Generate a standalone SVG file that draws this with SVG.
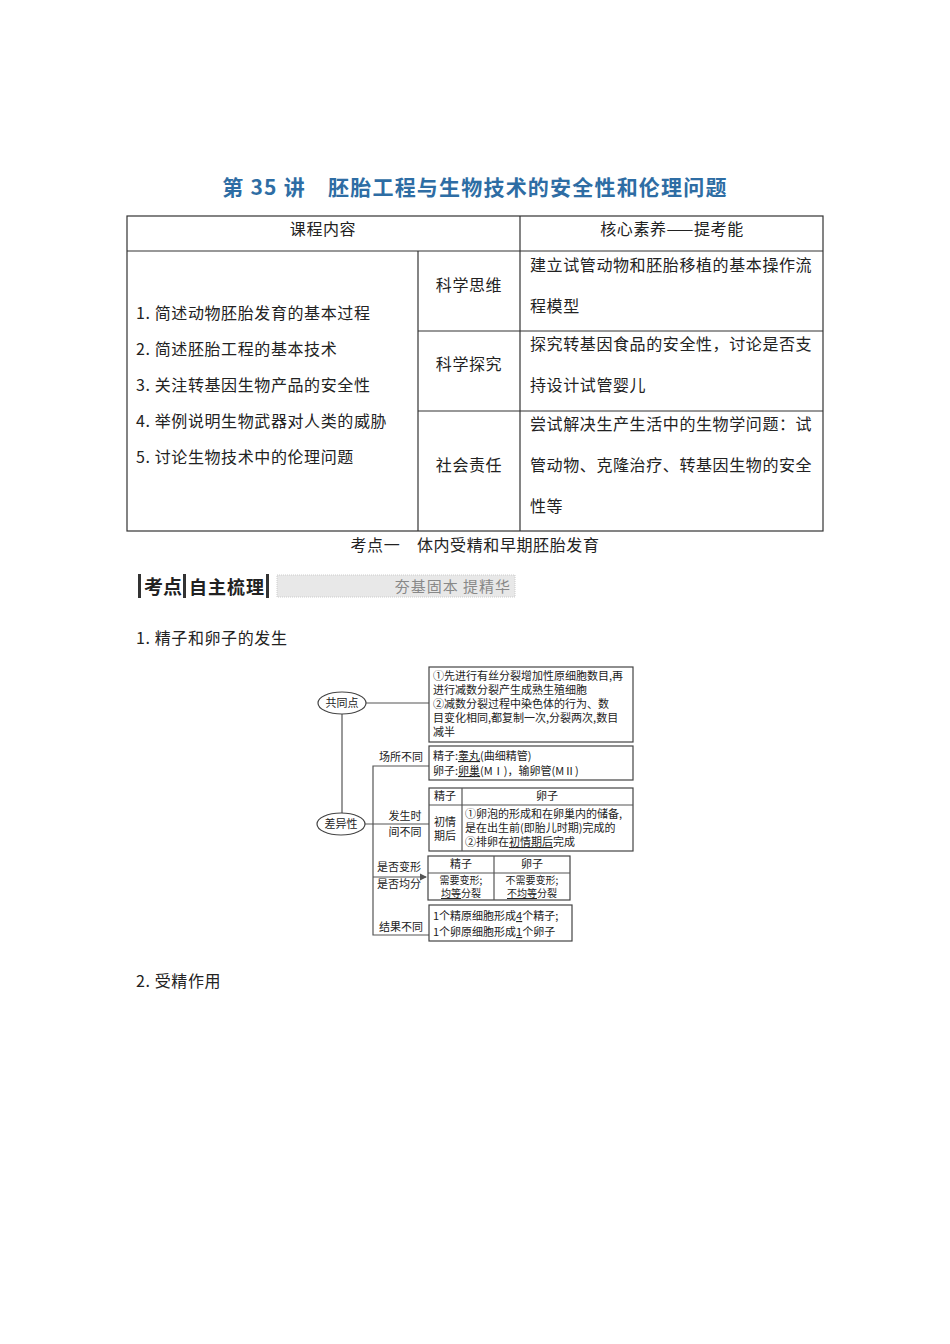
<svg xmlns="http://www.w3.org/2000/svg" width="950" height="1344" viewBox="0 0 950 1344">
<style>
text{font-family:"Noto Sans CJK SC","Liberation Serif",serif;fill:#222}
.t{font-size:16px;letter-spacing:0.6px}
.s{font-size:11px}
.xs{font-size:10px}
.b{fill:#fff;stroke:#444;stroke-width:1.2}
.l{stroke:#555;stroke-width:1.2;fill:none}
</style>
<defs><marker id="a" markerWidth="6" markerHeight="6" refX="5" refY="3" orient="auto"><path d="M0,0L6,3L0,6z" fill="#555"/></marker></defs>
<rect width="950" height="1344" fill="#fff"/>
<text x="475" y="195" text-anchor="middle" font-size="21" font-weight="bold" letter-spacing="1.2" style="fill:#2e6da4">第 35 讲　胚胎工程与生物技术的安全性和伦理问题</text>
<g id="table" class="l" style="stroke:#333">
<rect x="127" y="216" width="696" height="315"/>
<line x1="127" y1="251" x2="823" y2="251"/>
<line x1="520" y1="216" x2="520" y2="531"/>
<line x1="418" y1="251" x2="418" y2="531"/>
<line x1="418" y1="331" x2="823" y2="331"/>
<line x1="418" y1="411" x2="823" y2="411"/>
</g>
<g class="t">
<text x="323" y="235" text-anchor="middle">课程内容</text>
<text x="672" y="235" text-anchor="middle">核心素养——提考能</text>
<text x="136" y="319">1. 简述动物胚胎发育的基本过程</text>
<text x="136" y="355">2. 简述胚胎工程的基本技术</text>
<text x="136" y="391">3. 关注转基因生物产品的安全性</text>
<text x="136" y="427">4. 举例说明生物武器对人类的威胁</text>
<text x="136" y="463">5. 讨论生物技术中的伦理问题</text>
<text x="469" y="291" text-anchor="middle">科学思维</text>
<text x="469" y="370" text-anchor="middle">科学探究</text>
<text x="469" y="471" text-anchor="middle">社会责任</text>
<text x="530" y="271">建立试管动物和胚胎移植的基本操作流</text>
<text x="530" y="312">程模型</text>
<text x="530" y="350">探究转基因食品的安全性，讨论是否支</text>
<text x="530" y="391">持设计试管婴儿</text>
<text x="530" y="430">尝试解决生产生活中的生物学问题：试</text>
<text x="530" y="471">管动物、克隆治疗、转基因生物的安全</text>
<text x="530" y="512">性等</text>
<text x="475" y="551" text-anchor="middle">考点一　体内受精和早期胚胎发育</text>
<text x="136" y="644">1. 精子和卵子的发生</text>
<text x="136" y="987">2. 受精作用</text>
</g>
<g id="banner">
<rect x="138" y="574" width="3" height="24" fill="#333"/>
<rect x="183" y="574" width="3" height="24" fill="#333"/>
<rect x="266" y="574" width="3" height="24" fill="#333"/>
<text x="144" y="594" font-size="19" font-weight="bold">考点</text>
<text x="189" y="594" font-size="18" font-weight="bold" letter-spacing="1">自主梳理</text>
<rect x="277" y="575" width="238" height="22" fill="#e8e8e8" stroke="#ccc" stroke-dasharray="1,1"/>
<text x="511" y="592" text-anchor="end" font-size="15" letter-spacing="1" style="fill:#888">夯基固本  提精华</text>
</g>
<g id="connectors" class="l">
<line x1="366" y1="703" x2="429" y2="703"/>
<line x1="342" y1="714" x2="342" y2="813"/>
<line x1="365" y1="824" x2="429" y2="824"/>
<polyline points="429,766 373,766 373,935 429,935"/>
<line x1="373" y1="877" x2="426" y2="877" marker-end="url(#a)"/>
</g>
<g id="n1"><ellipse cx="342" cy="703" rx="24" ry="11" class="b"/><text x="342" y="707" class="s" text-anchor="middle">共同点</text></g>
<g id="n2"><ellipse cx="341" cy="824" rx="24" ry="11" class="b"/><text x="341" y="828" class="s" text-anchor="middle">差异性</text></g>
<g id="b1" class="s"><rect x="429" y="667" width="204" height="75" class="b"/>
<text x="433" y="680">①先进行有丝分裂增加性原细胞数目,再</text>
<text x="433" y="694">进行减数分裂产生成熟生殖细胞</text>
<text x="433" y="708">②减数分裂过程中染色体的行为、数</text>
<text x="433" y="722">目变化相同,都复制一次,分裂两次,数目</text>
<text x="433" y="736">减半</text></g>
<g id="b2" class="s"><rect x="429" y="746" width="204" height="34" class="b"/>
<text x="401" y="761" text-anchor="middle">场所不同</text>
<text x="433" y="760">精子:<tspan text-decoration="underline">睾丸</tspan>(曲细精管)</text>
<text x="433" y="775">卵子:<tspan text-decoration="underline">卵巢</tspan>(MⅠ)，输卵管(MⅡ)</text></g>
<g id="b3" class="s"><rect x="429" y="788" width="204" height="63" class="b"/>
<line x1="429" y1="805" x2="633" y2="805" class="l"/><line x1="462" y1="788" x2="462" y2="851" class="l"/>
<text x="445" y="800" text-anchor="middle">精子</text><text x="547" y="800" text-anchor="middle">卵子</text>
<text x="445" y="826" text-anchor="middle">初情</text><text x="445" y="840" text-anchor="middle">期后</text>
<text x="465" y="818">①卵泡的形成和在卵巢内的储备,</text>
<text x="465" y="832">是在出生前(即胎儿时期)完成的</text>
<text x="465" y="846">②排卵在<tspan text-decoration="underline">初情期后</tspan>完成</text>
<text x="405" y="820" text-anchor="middle">发生时</text><text x="405" y="836" text-anchor="middle">间不同</text></g>
<g id="b4" class="s"><rect x="428" y="856" width="142" height="44" class="b"/>
<line x1="428" y1="873" x2="570" y2="873" class="l"/><line x1="494" y1="856" x2="494" y2="900" class="l"/>
<text x="461" y="868" text-anchor="middle">精子</text><text x="532" y="868" text-anchor="middle">卵子</text>
<text x="461" y="884" class="xs" text-anchor="middle">需要变形;</text><text x="461" y="897" class="xs" text-anchor="middle"><tspan text-decoration="underline">均等</tspan>分裂</text>
<text x="532" y="884" class="xs" text-anchor="middle">不需要变形;</text><text x="532" y="897" class="xs" text-anchor="middle"><tspan text-decoration="underline">不均等</tspan>分裂</text>
<text x="399" y="871" text-anchor="middle">是否变形</text><text x="399" y="888" text-anchor="middle">是否均分</text></g>
<g id="b5" class="s"><rect x="429" y="905" width="143" height="36" class="b"/>
<text x="433" y="920">1个精原细胞形成<tspan text-decoration="underline">4</tspan>个精子;</text>
<text x="433" y="936">1个卵原细胞形成<tspan text-decoration="underline">1</tspan>个卵子</text>
<text x="401" y="931" text-anchor="middle">结果不同</text></g>
</svg>
